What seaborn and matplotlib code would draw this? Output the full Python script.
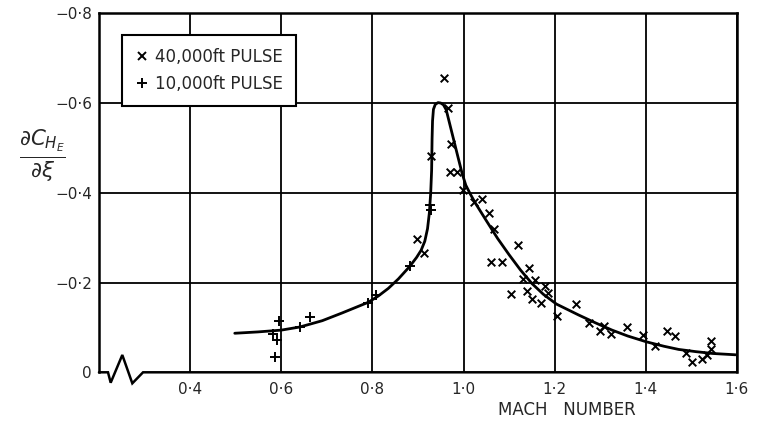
import numpy as np
import pandas as pd
import matplotlib
matplotlib.use("Agg")
import matplotlib.pyplot as plt
import seaborn as sns
from matplotlib.lines import Line2D

# ---- data ----
mach_40k = [0.899, 0.914, 0.929, 0.957, 0.966, 0.972, 0.971, 0.986, 0.999, 1.024,
            1.040, 1.056, 1.067, 1.119, 1.060, 1.084, 1.143, 1.131, 1.156, 1.178,
            1.185, 1.105, 1.139, 1.151, 1.171, 1.206, 1.247, 1.276, 1.299, 1.309,
            1.324, 1.359, 1.394, 1.421, 1.447, 1.464, 1.489, 1.502, 1.524, 1.535,
            1.542, 1.544]
dch_40k = [-0.297, -0.266, -0.481, -0.656, -0.590, -0.508, -0.446, -0.446, -0.406, -0.380,
           -0.387, -0.354, -0.319, -0.283, -0.245, -0.245, -0.232, -0.207, -0.205, -0.192,
           -0.176, -0.174, -0.182, -0.163, -0.154, -0.126, -0.152, -0.109, -0.093, -0.103,
           -0.085, -0.102, -0.083, -0.059, -0.092, -0.080, -0.042, -0.022, -0.029, -0.039,
           -0.070, -0.051]

mach_10k = [0.595, 0.664, 0.641, 0.582, 0.590, 0.586, 0.791, 0.809, 0.883, 0.926, 0.928]
dch_10k = [-0.115, -0.124, -0.100, -0.086, -0.072, -0.033, -0.154, -0.173, -0.237, -0.373, -0.361]

# faired curve
curve_mach = [0.498, 0.549, 0.600, 0.641, 0.690, 0.733, 0.791, 0.813, 0.835, 0.857,
              0.882, 0.897, 0.907, 0.915, 0.921, 0.925, 0.928, 0.930, 0.931, 0.932,
              0.934, 0.938, 0.944, 0.950, 0.956, 0.962, 0.975, 0.988, 0.997, 1.005,
              1.015, 1.026, 1.050, 1.075, 1.100, 1.125, 1.150, 1.175, 1.204, 1.252,
              1.290, 1.326, 1.360, 1.401, 1.440, 1.472, 1.510, 1.546, 1.597]
curve_dch = [-0.087, -0.090, -0.094, -0.101, -0.115, -0.132, -0.156, -0.170, -0.187, -0.208,
             -0.236, -0.256, -0.272, -0.292, -0.320, -0.355, -0.400, -0.450, -0.520, -0.560,
             -0.586, -0.597, -0.601, -0.600, -0.596, -0.585, -0.532, -0.479, -0.443, -0.417,
             -0.397, -0.377, -0.338, -0.298, -0.262, -0.228, -0.198, -0.174, -0.152, -0.128,
             -0.110, -0.094, -0.081, -0.068, -0.058, -0.051, -0.046, -0.042, -0.039]

x_ticks = [0.4, 0.6, 0.8, 1.0, 1.2, 1.4, 1.6]
x_tick_labels = ["0·4", "0·6", "0·8", "1·0", "1·2", "1·4", "1·6"]
y_ticks = [0.0, -0.2, -0.4, -0.6, -0.8]
y_tick_labels = ["0", "−0·2", "−0·4", "−0·6", "−0·8"]
legend_labels = ["40,000ft PULSE", "10,000ft PULSE"]

# axis-break zigzag (decoration, in data units)
break_x = [0.2, 0.2198, 0.2257, 0.2512, 0.2732, 0.2967, 1.6]
break_y = [0.0, 0.0, 0.0232, -0.0386, 0.0246, 0.0, 0.0]

# ---- style ----
sns.set_style("white")
plt.rcParams['font.family'] = ['DejaVu Sans']
plt.rcParams['mathtext.fontset'] = 'dejavusans'

fig = plt.figure(figsize=(7.69, 4.25), dpi=100)
ax = fig.add_axes([0.1287, 0.1240, 0.8296, 0.8447])

# grid (manual so the broken baseline stays clear)
for xv in x_ticks:
    ax.axvline(xv, color="black", lw=1.3, zorder=1)
for yv in y_ticks[1:]:
    ax.axhline(yv, color="black", lw=1.3, zorder=1)

curve_df = pd.DataFrame({"mach": curve_mach, "dch": curve_dch})
sns.lineplot(data=curve_df, x="mach", y="dch", sort=False, estimator=None,
             color="black", lw=2.0, ax=ax, zorder=2)
ax.lines[-1].set_solid_joinstyle("round")

sns.scatterplot(x=mach_40k, y=dch_40k, marker="x", color="black", s=30,
                linewidth=1.4, ax=ax, zorder=3)
sns.scatterplot(x=mach_10k, y=dch_10k, marker="+", color="black", s=45,
                linewidth=1.4, ax=ax, zorder=3)

ax.set_xlim(0.2, 1.6)
ax.set_ylim(0.0, -0.8)
ax.set_xticks(x_ticks)
ax.set_xticklabels(x_tick_labels, fontsize=11)
ax.set_yticks(y_ticks)
ax.set_yticklabels(y_tick_labels, fontsize=11)
ax.tick_params(axis="x", length=0, pad=7)
ax.tick_params(axis="y", length=0, pad=5)

for side in ["left", "right", "top"]:
    ax.spines[side].set_color("black")
    ax.spines[side].set_linewidth(1.8)
ax.spines["bottom"].set_visible(False)
ax.plot(break_x, break_y, color="black", lw=1.8, clip_on=False, zorder=4,
        solid_joinstyle="miter")

ax.set_xlabel("MACH   NUMBER", fontsize=12)
ax.xaxis.set_label_coords(0.7335, -0.105)
ax.xaxis.label.set_va("center")

ax.set_ylabel(r"$\frac{\partial C_{H_E}}{\partial \xi}$", fontsize=22, rotation=0)
ax.yaxis.set_label_coords(-0.088, 0.6025)
ax.yaxis.label.set_va("center")
ax.yaxis.label.set_ha("center")

handles = [Line2D([], [], marker="x", ls="none", color="black", ms=6, mew=1.4),
           Line2D([], [], marker="+", ls="none", color="black", ms=7.5, mew=1.4)]
leg = ax.legend(handles, legend_labels, loc="upper left", bbox_to_anchor=(0.036, 0.94),
                frameon=True, fancybox=False, edgecolor="black", framealpha=1,
                handlelength=0.8, handletextpad=0.4, borderpad=0.8,
                labelspacing=0.5, fontsize=12, borderaxespad=0)
leg.get_frame().set_linewidth(1.5)
leg.set_zorder(5)

fig.savefig("out.png", dpi=100, facecolor="white")
